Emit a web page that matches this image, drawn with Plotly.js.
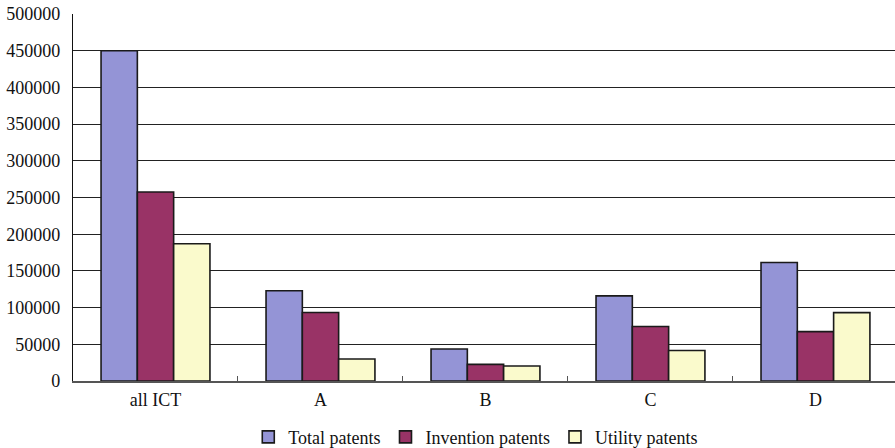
<!DOCTYPE html>
<html>
<head>
<meta charset="utf-8">
<script src="https://cdn.plot.ly/plotly-3.0.1.min.js"></script>
<style>html,body{margin:0;padding:0;background:#fff;}#chart{width:895px;height:448px;}</style>
</head>
<body>
<div id="chart"></div>
<script>
const categories = ["all ICT", "A", "B", "C", "D"];
const totalPatents = [450000, 123000, 43500, 116000, 161500];
const inventionPatents = [257500, 93300, 22700, 74200, 67300];
const utilityPatents = [187000, 30000, 20400, 41500, 93100];
const seriesNames = ["Total patents", "Invention patents", "Utility patents"];
const yTicks = [0, 50000, 100000, 150000, 200000, 250000, 300000, 350000, 400000, 450000, 500000];

const colors = ["#9494d6", "#993366", "#fafacc"];
const lineStyle = {color: "#1a1a1a", width: 1.6};
const font = {family: "Liberation Serif, Times New Roman, serif", size: 18, color: "#111"};

const traces = [totalPatents, inventionPatents, utilityPatents].map((vals, i) => ({
  type: "bar",
  name: seriesNames[i],
  x: categories,
  y: vals,
  marker: {color: colors[i], line: lineStyle},
  hoverinfo: "x+y+name"
}));

const layout = {
  width: 895, height: 448,
  margin: {l: 73, r: 0, t: 14, b: 67, autoexpand: false},
  paper_bgcolor: "#fff", plot_bgcolor: "#fff",
  font: font,
  barmode: "group",
  bargap: 0.34,
  bargroupgap: 0,
  showlegend: true,
  legend: {orientation: "h", x: 0.49, xanchor: "center", y: -0.153, yanchor: "middle",
           font: {family: font.family, size: 18, color: "#111"}},
  xaxis: {type: "category", range: [-0.5, 4.482], tickson: "boundaries", ticks: "inside",
          ticklen: 5, tickcolor: "#555", showline: true, linecolor: "#555", linewidth: 1.5,
          showgrid: false, tickfont: font, ticklabelstandoff: 2, automargin: false, fixedrange: true},
  yaxis: {range: [0, 500000], tickvals: yTicks, ticktext: yTicks.map(String),
          showgrid: true, gridcolor: "#222", gridwidth: 1, zeroline: false,
          showline: true, linecolor: "#111", linewidth: 1.2, ticks: "",
          ticklabelstandoff: 8, tickfont: font, automargin: false, fixedrange: true}
};

Plotly.newPlot("chart", traces, layout, {displayModeBar: false, staticPlot: true});
</script>
</body>
</html>
